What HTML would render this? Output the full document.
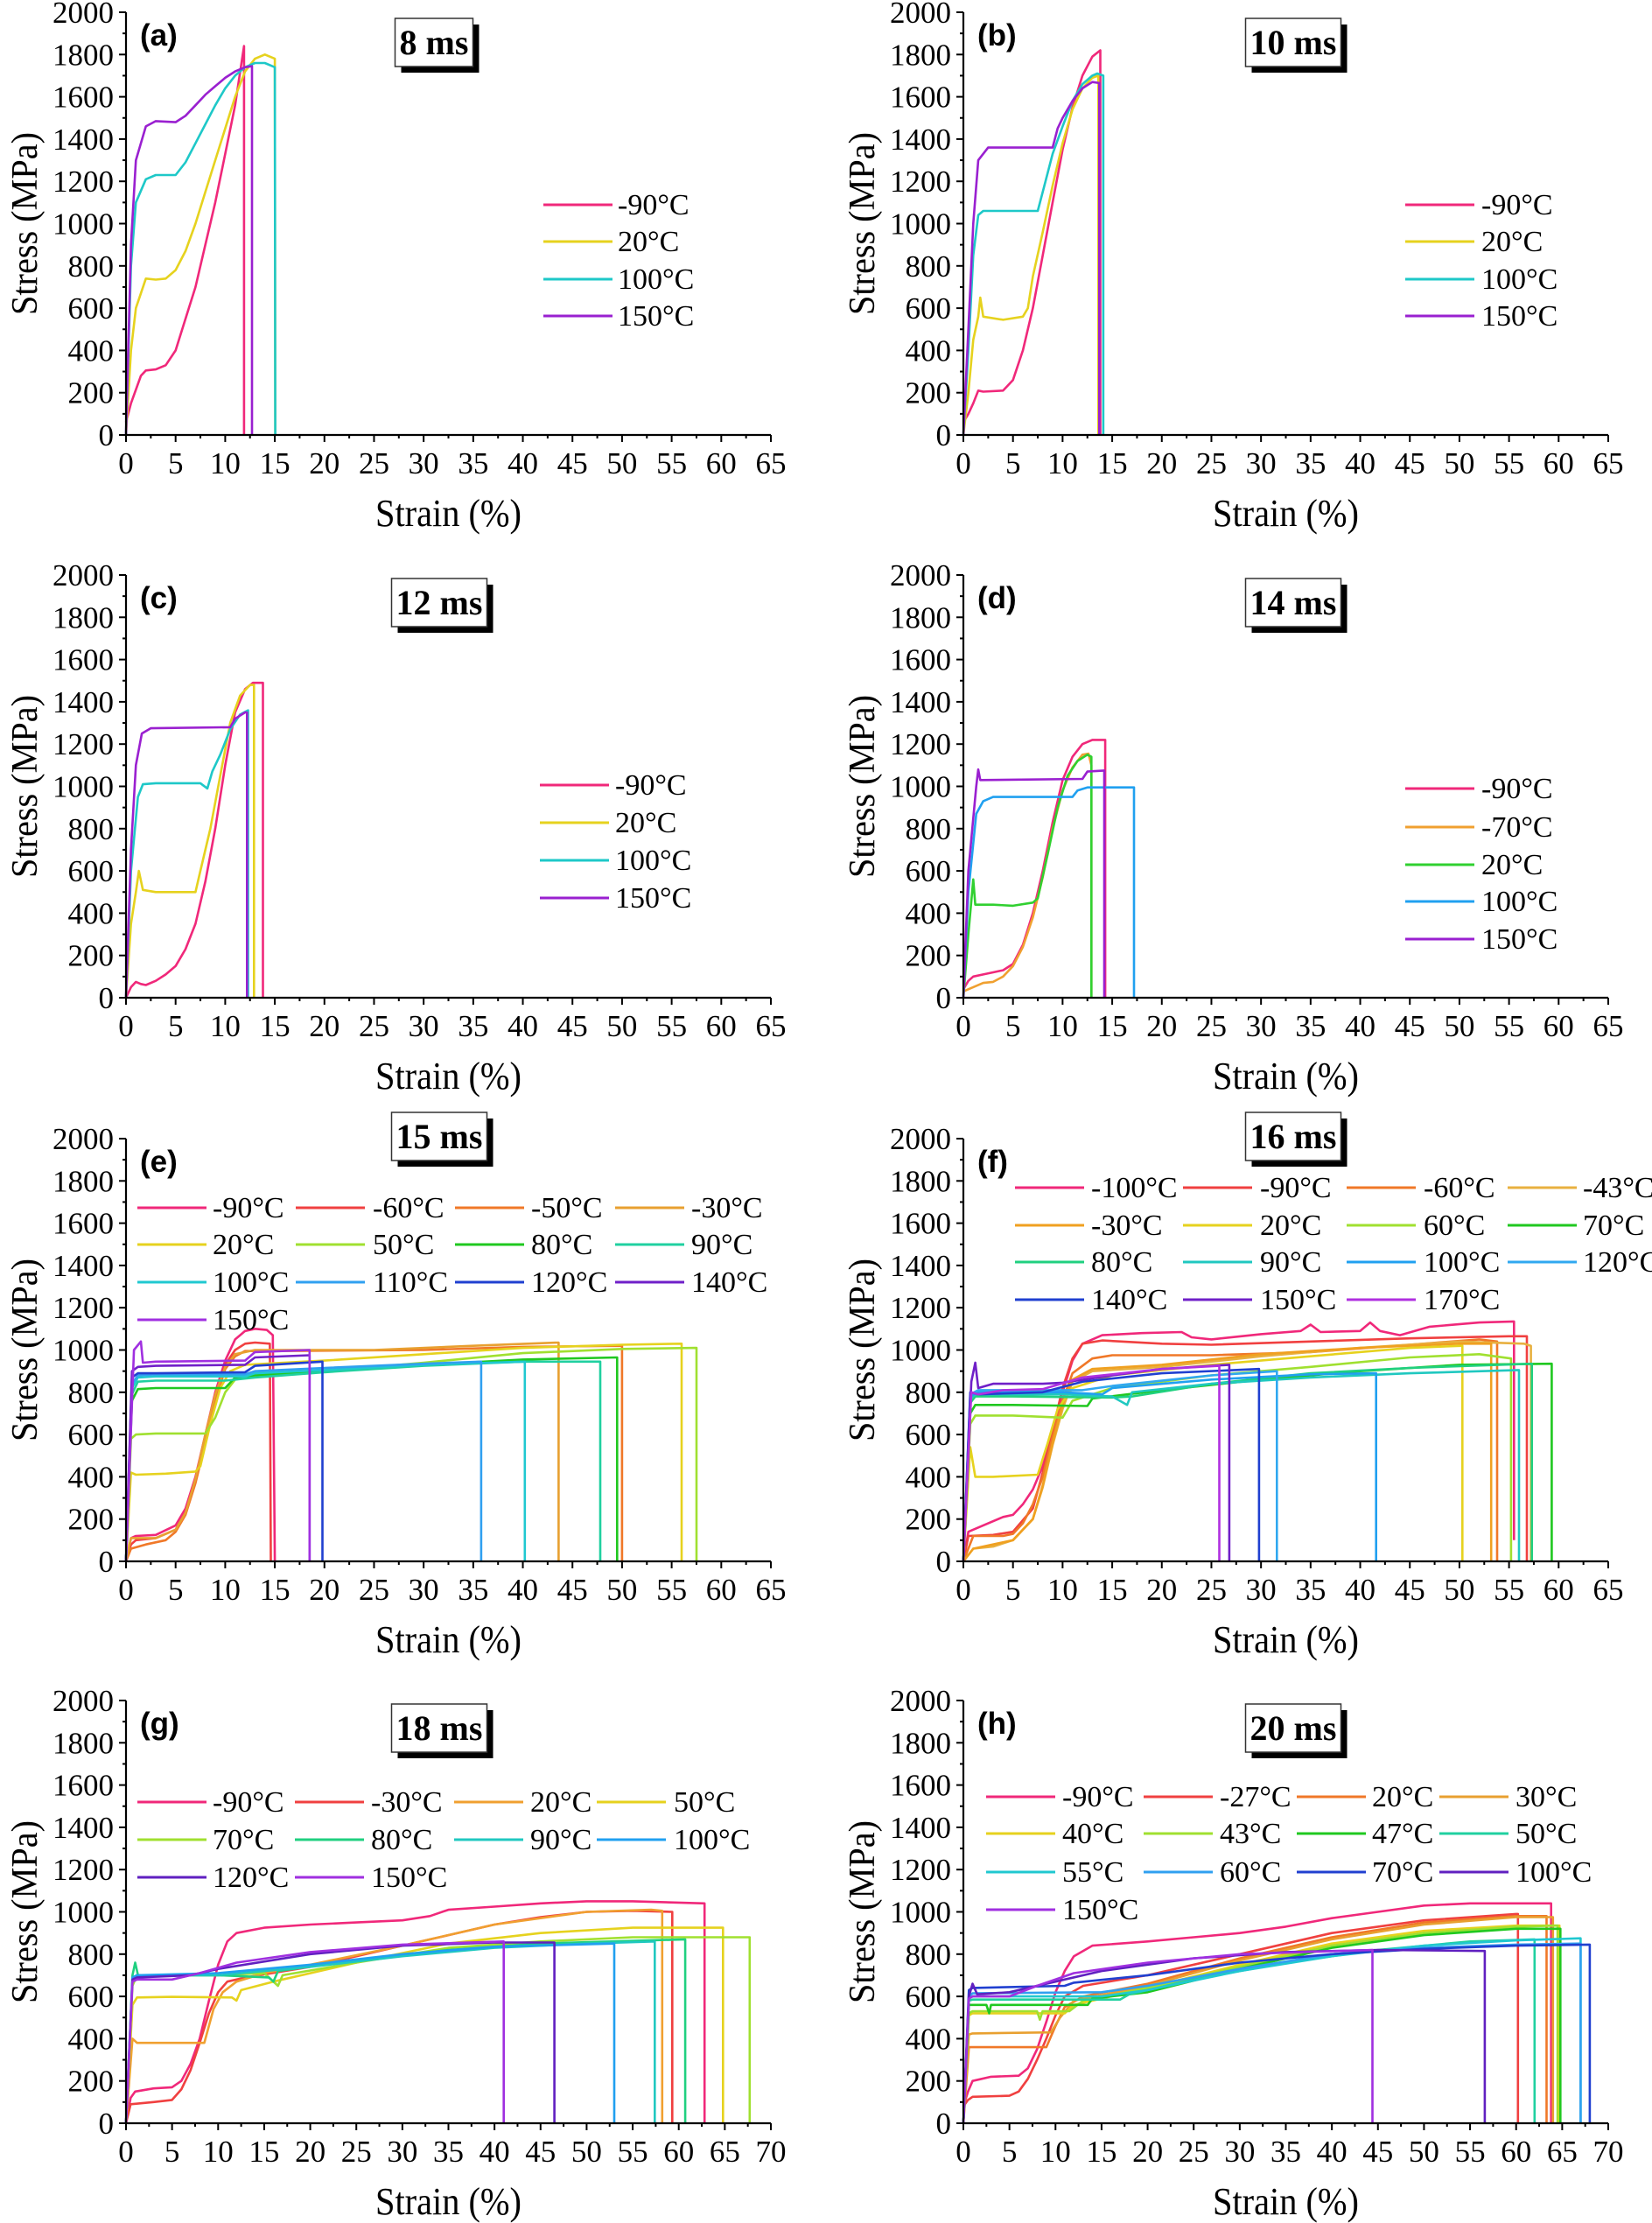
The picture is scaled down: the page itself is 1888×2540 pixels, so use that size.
<!DOCTYPE html>
<html><head><meta charset="utf-8"><title>Stress-strain curves</title>
<style>
html,body{margin:0;padding:0;background:#fff;}
svg{display:block;}
text{font-family:"Liberation Serif",serif;fill:#000;}
</style></head>
<body>
<svg id="fig" width="1888" height="2540" viewBox="0 0 1888 2540" xmlns="http://www.w3.org/2000/svg"></svg>
<script>
// ---------- Panel (a) 8 ms ----------
const aLabels = ["-90°C","20°C","100°C","150°C"];
const aColors = ["#f0287a","#e6d21e","#1ec8c8","#9a20d0"];
const aX = [
 [0,0.5,1.5,2,3,4,5,6,7,8,9,10,11,11.9,11.9],
 [0,0.5,1,2,3,4,5,6,7,8,9,10,11,12,13,14,15,15.05],
 [0,0.5,1,2,3,5,6,7,8,9,10,11,12,13,14,15,15.05],
 [0,0.5,1,2,3,5,6,7,8,9,10,11,12,12.7,12.7]];
const aY = [
 [60,150,280,305,310,330,400,550,700,900,1100,1330,1560,1840,0],
 [0,400,600,740,735,740,780,870,1000,1150,1300,1450,1600,1720,1780,1800,1780,0],
 [0,800,1100,1210,1230,1230,1290,1380,1470,1560,1640,1700,1740,1760,1760,1740,0],
 [0,900,1300,1460,1485,1480,1510,1560,1610,1650,1690,1720,1740,1745,0]];
// ---------- Panel (b) 10 ms ----------
const bLabels = ["-90°C","20°C","100°C","150°C"];
const bColors = ["#f0287a","#e6d21e","#1ec8c8","#9a20d0"];
const bX = [
 [0,0.5,1,1.5,2,4,5,6,7,8,9,10,11,12,13,13.8,13.8],
 [0,0.5,1,1.5,1.7,2,4,6,6.5,7,8,9,10,11,12,13,13.6,13.6],
 [0,0.5,1,1.5,2,7.5,8,9,10,11,12,13,13.5,14.1,14.1],
 [0,0.5,1,1.5,2.5,9,9.5,10,11,12,13,13.7,13.7]];
const bY = [
 [60,100,150,210,205,210,260,400,600,850,1100,1350,1550,1700,1790,1820,0],
 [0,200,450,560,650,560,545,560,600,750,960,1180,1380,1540,1640,1690,1700,0],
 [0,400,850,1040,1060,1060,1150,1330,1460,1580,1660,1700,1710,1700,0],
 [0,500,1000,1300,1360,1360,1450,1500,1580,1640,1670,1665,0]];
// ---------- Panel (c) 12 ms ----------
const cLabels = ["-90°C","20°C","100°C","150°C"];
const cColors = ["#f0287a","#e6d21e","#1ec8c8","#9a20d0"];
const cX = [
 [0,0.5,1,1.5,2,3,4,5,6,7,8,9,10,11,12,12.8,13.8,13.8],
 [0,0.5,1,1.3,1.7,3,7,7.5,8.5,9.5,10.5,11.5,12.5,12.9,12.9],
 [0,0.5,1.2,1.7,3,7.5,8.2,8.7,9.5,10.5,11.5,12.3,12.3],
 [0,0.5,1,1.6,2.5,10.5,11,12,12.2,12.2]];
const cY = [
 [0,50,75,65,60,80,110,150,230,350,550,800,1100,1350,1460,1490,1490,0],
 [0,350,500,600,510,500,500,600,800,1050,1300,1430,1480,1480,0],
 [0,600,950,1010,1015,1015,990,1070,1150,1270,1340,1360,0],
 [0,700,1100,1250,1275,1280,1320,1350,1350,0]];
// ---------- Panel (d) 14 ms ----------
const dLabels = ["-90°C","-70°C","20°C","100°C","150°C"];
const dColors = ["#f0287a","#f0a030","#30d030","#20a0f0","#9a20d0"];
const dX = [
 [0,0.5,1,2,3,4,5,6,7,8,9,10,11,12,13,14.3,14.3],
 [0,0.5,1,2,3,4,5,6,7,8,9,10,11,12,12.6,12.9,12.9],
 [0,0.5,1,1.2,3,5,7,7.5,8.5,9.5,10.5,11.5,12.5,12.9,12.9],
 [0,0.5,1.3,2,3,11,11.5,12.5,17.2,17.2],
 [0,0.5,1.3,1.5,1.7,12,12.5,14.2,14.2]];
const dY = [
 [40,80,100,110,120,130,160,250,400,600,830,1030,1140,1200,1220,1220,0],
 [30,40,50,70,75,100,150,240,380,570,800,980,1090,1150,1155,1100,0],
 [0,300,560,440,440,435,450,470,680,900,1050,1120,1150,1140,0],
 [0,500,870,930,950,950,980,995,995,0],
 [0,600,1000,1080,1030,1035,1070,1075,0]];
// ---------- Panel (e) 15 ms ----------
const eLabels = ["-90°C","-60°C","-50°C","-30°C","20°C","50°C","80°C","90°C","100°C","110°C","120°C","140°C","150°C"];
const eColors = ["#f0287a","#f04040","#f07828","#e8a030","#e6d21e","#a0e030","#20c820","#20d0a0","#20c8d0","#30a0f0","#2040d0","#7020c8","#a030e0"];
const eX = [
 [0,0.5,1,3,5,6,7,8,9,10,11,12,13,14.2,14.8,15],
 [0,0.5,1,3,5,6,7,8,9,10,11,12,13,14.5,14.6],
 [0,0.5,2,4,5,6,7,8,9,10,11,12,15,30,40,50,50],
 [0,0.5,3,5,6,7,8,9,10,11,13,25,35,43.6,43.6],
 [0,0.5,1,4,7,7.5,8.5,9.5,10.5,12,20,30,40,50,56,56],
 [0,0.5,1,3,8,9,10,11,13,20,30,40,50,57.5,57.5],
 [0,0.6,1.2,3,10,11,13,20,30,40,49.5,49.5],
 [0,0.6,1.2,3,10,11,13,20,30,40,47.8,47.8],
 [0,0.6,1.2,3,12,13,20,30,40.2,40.2],
 [0,0.6,1.2,3,12,13,20,30,35.8,35.8],
 [0,0.6,1.2,3,12,13,19.8,19.8],
 [0,0.6,1.2,3,12,13,18.5,18.5],
 [0,0.8,1.5,1.7,3,12,13,18.5,18.5]];
const eY = [
 [0,110,120,125,170,250,400,600,800,950,1050,1090,1100,1095,1070,0],
 [0,80,100,110,150,230,380,580,780,930,1000,1030,1035,1030,0],
 [0,60,80,100,140,220,370,560,760,910,970,995,995,1000,1015,1020,0],
 [0,110,110,150,230,390,600,790,920,980,1000,1000,1020,1035,0],
 [0,420,410,415,425,450,650,820,900,930,950,980,1010,1025,1030,0],
 [0,580,600,605,605,680,800,860,880,900,940,985,1005,1010,0],
 [0,760,815,820,820,870,880,900,930,955,965,0],
 [0,790,850,855,855,860,870,895,925,945,945,0],
 [0,820,870,875,875,890,905,930,945,0],
 [0,840,880,885,885,900,915,935,945,0],
 [0,870,890,890,895,925,945,0],
 [0,900,920,925,930,965,975,0],
 [0,1000,1040,940,945,950,990,1000,0]];
// ---------- Panel (f) 16 ms ----------
const fLabels = ["-100°C","-90°C","-60°C","-43°C","-30°C","20°C","60°C","70°C","80°C","90°C","100°C","120°C","140°C","150°C","170°C"];
const fColors = ["#f0287a","#f04040","#f07828","#e8b040","#f0a020","#e6d21e","#a0e030","#20c820","#20d080","#20c8c0","#20a0f0","#30a8f0","#2040d0","#7020c8","#b030e0"];
const fX = [
 [0,0.5,2,4,5,6,7,8,9,10,11,12,14,18,22,23,25,30,34,35,36,40,41,42,44,47,52,55.5,55.5],
 [0,0.5,3,5,7,8,9,10,11,12,14,20,25,35,45,55,56.8,56.8],
 [0,1,4,5,6,7,8,9,10,11,13,15,25,35,45,52,53.8,53.8],
 [0,1,3,5,7,8,9,10,11,13,20,30,40,50,56.5,57.2,57.2],
 [0,1,3,5,7,8,9,10,11,13,20,30,40,50,53.2,53.2],
 [0,0.7,1.2,3,7.5,8.5,9.5,11,15,25,35,45,50.3,50.3],
 [0,0.7,1.2,5,10,11,15,25,35,45,52,55.2,55.2],
 [0,0.7,1.2,5,12.5,13,20,30,40,50,59.3,59.3],
 [0,0.7,1.2,5,15,17,25,35,45,57.3,57.3],
 [0,0.7,1.2,10,15,16.5,17,25,35,45,56,56],
 [0,0.7,1.5,10,14,15,25,35,41.6,41.6],
 [0,0.7,1.5,12,15,25,31.6,31.6],
 [0,0.7,1.5,8,12,20,29.8,29.8],
 [0,0.8,1.2,1.5,3,8,10,15,20,26.8,26.8],
 [0,0.8,1.5,4,8,12,20,25.8,25.8]];
const fY = [
 [0,140,170,210,220,270,340,450,620,800,950,1030,1070,1080,1085,1060,1050,1075,1090,1120,1085,1090,1130,1090,1070,1110,1130,1135,100],
 [0,120,125,140,250,420,620,820,960,1030,1045,1030,1025,1040,1055,1065,1065,0],
 [0,120,120,130,180,270,400,590,760,890,960,975,975,990,1025,1050,1040,0],
 [0,60,70,100,200,350,550,720,850,900,920,970,1010,1040,1030,1020,0],
 [0,60,80,100,200,360,560,740,860,910,930,980,1010,1030,1030,0],
 [0,540,400,400,410,560,720,820,880,930,970,1010,1020,0],
 [0,650,690,690,680,760,820,880,920,965,980,960,0],
 [0,700,740,740,735,770,810,860,900,930,935,0],
 [0,750,780,780,775,780,840,890,915,935,0],
 [0,770,790,790,780,740,800,840,870,890,905,0],
 [0,780,800,800,790,820,860,885,890,0],
 [0,790,810,810,830,880,900,0],
 [0,800,790,800,850,890,910,0],
 [0,850,940,820,840,840,845,880,910,930,0],
 [0,800,790,810,815,870,910,925,0]];
// ---------- Panel (g) 18 ms ----------
const gLabels = ["-90°C","-30°C","20°C","50°C","70°C","80°C","90°C","100°C","120°C","150°C"];
const gColors = ["#f0287a","#f04040","#f0a030","#e6d21e","#a0e030","#20d080","#20c8c0","#20a0f0","#6020c0","#a030e0"];
const gX = [
 [0,0.5,1,3,5,6,7,8,9,10,11,12,15,20,25,30,33,35,40,45,50,55,62.8,62.8],
 [0,0.5,3,5,6,7,8,9,10,11,13,20,25,30,35,40,45,50,55,59.3,59.3],
 [0,0.7,1.2,5,8.5,9.5,10.5,12,15,20,30,40,50,57,58.2,58.2],
 [0,0.7,1.2,5,11.5,12,12.5,16,25,35,45,55,64.8,64.8],
 [0,0.7,1.2,10,15,16.5,17,25,35,45,55,67.7,67.7],
 [0,0.7,1,1.3,10,15.5,16,16.5,25,35,45,60.7,60.7],
 [0,0.7,1.2,10,20,30,40,50,57.4,57.4],
 [0,0.7,1.2,10,20,30,40,53,53],
 [0,0.7,1.2,7,10,20,30,40,46.5,46.5],
 [0,0.7,1.2,5,8,12,20,30,41,41]];
const gY = [
 [0,120,150,165,170,200,280,400,580,750,860,900,925,940,950,960,980,1010,1025,1040,1050,1050,1040,0],
 [0,90,100,110,160,250,380,520,620,670,690,740,790,840,890,940,975,1000,1005,1000,0],
 [0,400,380,380,380,540,620,670,710,750,840,940,1000,1010,1005,0],
 [0,560,595,598,595,580,630,670,760,850,900,925,925,0],
 [0,650,700,700,710,650,700,760,830,860,880,880,0],
 [0,700,760,700,700,690,670,720,770,820,850,870,0],
 [0,690,700,700,740,790,830,850,860,0],
 [0,690,700,710,750,800,835,850,0],
 [0,680,690,700,730,800,840,855,855,0],
 [0,670,680,680,710,760,810,845,860,0]];
// ---------- Panel (h) 20 ms ----------
const hLabels = ["-90°C","-27°C","20°C","30°C","40°C","43°C","47°C","50°C","55°C","60°C","70°C","100°C","150°C"];
const hColors = ["#f0287a","#f04040","#f07828","#e8a030","#e6d21e","#a0e030","#20c820","#20d0a0","#20c8d0","#30a0f0","#2040d0","#6020c0","#a030e0"];
const hX = [
 [0,0.5,1,3,6,7,8,9,10,11,12,14,20,25,30,35,40,45,50,55,63.8,63.8],
 [0,0.5,1,5,6,7,8,9,10,11,13,20,30,40,50,60,60.2,60.2],
 [0,0.6,1,9,10,11,13,20,30,40,50,60,63.3,63.3],
 [0,0.6,1,9.5,10.5,12,20,30,40,50,60,64,64],
 [0,0.6,1,11,12,20,30,40,50,60,64.7,64.7],
 [0,0.6,1,8,8.3,8.6,11.5,13,20,30,40,50,60,64.5,64.5],
 [0,0.6,2.5,2.8,3,13.5,14,20,30,40,50,60,64.8,64.8],
 [0,0.6,1,17,18,25,35,45,55,62,62],
 [0,0.6,1,15,20,30,40,50,60,67,67],
 [0,0.6,1,15,20,30,40,50,60,67,67],
 [0,0.6,1,11,12,20,30,40,50,60,68,68],
 [0,0.6,1,1.5,5,10,15,25,35,45,56.6,56.6],
 [0,0.6,1,5,8,12,20,30,44.4,44.4]];
const hY = [
 [80,150,200,220,225,260,350,480,620,720,790,840,860,880,900,930,970,1000,1030,1040,1040,0],
 [80,110,125,130,150,210,300,400,510,600,650,700,800,900,960,990,990,0],
 [0,360,360,360,460,550,600,660,780,880,950,980,980,0],
 [0,420,425,430,500,580,650,770,870,940,975,975,0],
 [0,510,520,520,560,640,750,850,910,935,935,0],
 [0,520,530,530,490,530,530,580,640,740,840,900,930,935,0],
 [0,560,560,520,560,560,590,620,730,830,890,920,920,0],
 [0,580,585,585,610,680,760,820,860,870,0],
 [0,590,600,600,630,720,790,840,865,875,0],
 [0,600,615,620,650,730,800,830,845,850,0],
 [0,630,640,650,665,700,760,800,825,840,845,0],
 [0,600,660,610,620,670,720,780,810,820,815,0],
 [0,590,600,600,650,710,760,800,820,0]];

// ---------- layout (positions only) ----------
const NS = "http://www.w3.org/2000/svg";
const svg = document.getElementById("fig");
function el(tag, attrs, parent, txt){
  const e = document.createElementNS(NS, tag);
  for (const k in attrs) e.setAttribute(k, attrs[k]);
  if (txt !== undefined) e.textContent = txt;
  (parent || svg).appendChild(e);
  return e;
}
const panels = [
 {id:"a",title:"8 ms",L:144,T:14,xmax:65,X:aX,Y:aY,labels:aLabels,colors:aColors,box:496,legend:{cols:1,lx:[621],tx:[706],ry:[234,276,319,361]}},
 {id:"b",title:"10 ms",L:1101,T:14,xmax:65,X:bX,Y:bY,labels:bLabels,colors:bColors,box:1478,legend:{cols:1,lx:[1606],tx:[1693],ry:[234,276,319,361]}},
 {id:"c",title:"12 ms",L:144,T:657,xmax:65,X:cX,Y:cY,labels:cLabels,colors:cColors,box:502,legend:{cols:1,lx:[617],tx:[703],ry:[897,940,983,1026]}},
 {id:"d",title:"14 ms",L:1101,T:657,xmax:65,X:dX,Y:dY,labels:dLabels,colors:dColors,box:1478,legend:{cols:1,lx:[1606],tx:[1693],ry:[901,945,988,1030,1073]}},
 {id:"e",title:"15 ms",L:144,T:1301,xmax:65,X:eX,Y:eY,labels:eLabels,colors:eColors,box:502,legend:{cols:4,lx:[157,338,520,703],tx:[243,426,607,790],ry:[1380,1422,1465,1508]}},
 {id:"f",title:"16 ms",L:1101,T:1301,xmax:65,X:fX,Y:fY,labels:fLabels,colors:fColors,box:1478,legend:{cols:4,lx:[1160,1352,1539,1723],tx:[1247,1440,1627,1809],ry:[1357,1400,1442,1485]}},
 {id:"g",title:"18 ms",L:144,T:1943,xmax:70,X:gX,Y:gY,labels:gLabels,colors:gColors,box:502,legend:{cols:4,lx:[157,337,519,682],tx:[243,424,606,770],ry:[2059,2102,2145]}},
 {id:"h",title:"20 ms",L:1101,T:1943,xmax:70,X:hX,Y:hY,labels:hLabels,colors:hColors,box:1478,legend:{cols:4,lx:[1127,1307,1482,1645],tx:[1214,1394,1568,1732],ry:[2053,2095,2139,2182]}}
];
const W = 737, H = 483, YMAX = 2000;

panels.forEach(p => {
  const g = el("g", {});
  
  
  const sx = v => p.L + v / p.xmax * W;
  const sy = v => p.T + H - v / YMAX * H;
  const B = p.T + H;

  // series
  const sg = el("g", {}, g);
  
  
  p.X.forEach((xs, i) => {
    let d = "";
    xs.forEach((x, j) => { d += (j ? "L" : "M") + sx(x).toFixed(1) + " " + sy(p.Y[i][j]).toFixed(1); });
    const path = el("path", {d:d, fill:"none", stroke:p.colors[i], "stroke-width":2.6, "stroke-linejoin":"round"}, sg);
    
    
  });

  // axes
  const ax = el("path", {d:`M${p.L} ${p.T}V${B}H${p.L+W}`, fill:"none", stroke:"#000", "stroke-width":2.2}, g);
  
  
  // y ticks
  for (let v = 0; v <= YMAX; v += 100) {
    const major = v % 200 === 0;
    el("line", {x1:p.L - (major ? 8 : 4), x2:p.L, y1:sy(v), y2:sy(v), stroke:"#000", "stroke-width":2}, g);
    if (major) {
      const t = el("text", {x:p.L - 14, y:sy(v) + 12, "text-anchor":"end", "font-size":35}, g, String(v));
      
      
    }
  }
  // x ticks
  for (let v = 0; v <= p.xmax; v += 2.5) {
    const major = v % 5 === 0;
    el("line", {x1:sx(v), x2:sx(v), y1:B, y2:B + (major ? 8 : 4), stroke:"#000", "stroke-width":2}, g);
    if (major) {
      const t = el("text", {x:sx(v), y:B + 44, "text-anchor":"middle", "font-size":35}, g, String(v));
      
      
    }
  }
  // axis titles
  const xt = el("text", {x:p.L + W/2, y:B + 104, "text-anchor":"middle", "font-size":44, textLength:167, lengthAdjust:"spacingAndGlyphs"}, g, "Strain (%)");
  
  
  const yx = p.L - 102, yy = p.T + H/2;
  const yt = el("text", {x:yx, y:yy, transform:`rotate(-90 ${yx} ${yy})`, "text-anchor":"middle", "font-size":42, textLength:209, lengthAdjust:"spacingAndGlyphs"}, g, "Stress (MPa)");
  
  

  // panel label
  const pl = el("text", {x:p.L + 16, y:p.T + 38, "font-size":35, "font-weight":"bold", style:'font-family:"Liberation Sans",sans-serif'}, g, "(" + p.id + ")");
  
  

  // title box
  const bw = p.title.length > 4 ? 109 : 89;
  const bx = p.box - bw/2, by = (p.id === "a" || p.id === "b") ? 21 : p.T + 4 - (p.id === "e" || p.id === "f" ? 34 : 0);
  const tb = el("g", {}, g);
  
  
  el("rect", {x:bx + 7, y:by + 7, width:bw, height:55, fill:"#000"}, tb);
  el("rect", {x:bx, y:by, width:bw, height:55, fill:"#fff", stroke:"#333", "stroke-width":1.5}, tb);
  el("text", {x:p.box, y:by + 41, "text-anchor":"middle", "font-size":40, "font-weight":"bold"}, tb, p.title);

  // legend
  const lg = el("g", {}, g);
  
  
  p.labels.forEach((lab, i) => {
    const c = i % p.legend.cols, r = Math.floor(i / p.legend.cols);
    const y = p.legend.ry[r];
    const ent = el("g", {}, lg);
    
    
    el("line", {x1:p.legend.lx[c], x2:p.legend.lx[c] + 79, y1:y, y2:y, stroke:p.colors[i], "stroke-width":3}, ent);
    el("text", {x:p.legend.tx[c], y:y + 11, "font-size":34}, ent, lab);
  });
});
</script>
</body></html>
